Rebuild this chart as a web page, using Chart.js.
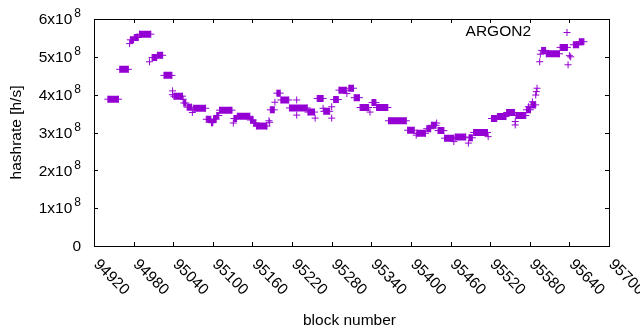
<!DOCTYPE html>
<html>
<head>
<meta charset="utf-8">
<script src="https://cdn.jsdelivr.net/npm/chart.js@4/dist/chart.umd.min.js"></script>
<style>
  html, body { margin: 0; background: #fff; }
</style>
</head>
<body>
<canvas id="hashChart" width="640" height="330"></canvas>
<script>
// runs of blocks that share the same hashrate (drawn as a solid band of + marks)
const runStart = [94941, 94959, 94975, 94981, 94989, 95008, 95016, 95026, 95041, 95056,
  95061, 95071, 95090, 95098, 95101, 95106, 95110, 95132, 95137, 95157,
  95162, 95166, 95187, 95197, 95203, 95216, 95244, 95258, 95268, 95283,
  95291, 95306, 95314, 95323, 95341, 95348, 95366, 95395, 95409, 95424,
  95431, 95441, 95451, 95467, 95488, 95495, 95522, 95531, 95545, 95559,
  95575, 95582, 95598, 95605, 95626, 95646, 95655];
const runEnd = [94957, 94972, 94980, 94987, 95006, 95015, 95024, 95038, 95054, 95059,
  95068, 95089, 95097, 95100, 95105, 95109, 95129, 95136, 95156, 95161,
  95165, 95182, 95193, 95202, 95215, 95243, 95254, 95267, 95277, 95290,
  95302, 95313, 95322, 95336, 95347, 95365, 95393, 95405, 95422, 95430,
  95438, 95450, 95465, 95483, 95493, 95516, 95530, 95544, 95557, 95574,
  95581, 95589, 95604, 95625, 95637, 95654, 95662];
const runValue = [3.88e8, 4.67e8, 5.45e8, 5.51e8, 5.60e8, 4.98e8, 5.04e8, 4.51e8, 3.96e8, 3.78e8,
  3.67e8, 3.64e8, 3.35e8, 3.26e8, 3.35e8, 3.45e8, 3.59e8, 3.37e8, 3.43e8, 3.33e8,
  3.25e8, 3.17e8, 3.60e8, 4.04e8, 3.86e8, 3.65e8, 3.54e8, 3.90e8, 3.56e8, 3.87e8,
  4.12e8, 4.17e8, 3.92e8, 3.66e8, 3.79e8, 3.66e8, 3.31e8, 3.06e8, 2.98e8, 3.10e8,
  3.19e8, 3.05e8, 2.85e8, 2.88e8, 2.86e8, 3.00e8, 3.37e8, 3.42e8, 3.53e8, 3.45e8,
  3.60e8, 3.73e8, 5.17e8, 5.08e8, 5.25e8, 5.32e8, 5.40e8];

// isolated blocks
const singleBlock = [94974, 95004, 95039, 95039, 95055, 95069, 95131, 95185, 95186, 95194,
  95227, 95227, 95255, 95267, 95280, 95280, 95303, 95338, 95408, 95439,
  95465, 95487, 95517, 95558, 95558, 95578, 95584, 95589, 95590, 95591,
  95595, 95596, 95638, 95640, 95642];
const singleValue = [5.35e8, 4.87e8, 4.10e8, 4.00e8, 3.88e8, 3.53e8, 3.25e8, 3.31e8, 3.27e8, 3.80e8,
  3.86e8, 3.46e8, 3.38e8, 3.64e8, 3.68e8, 3.38e8, 4.03e8, 3.54e8, 2.93e8, 3.25e8,
  2.76e8, 2.72e8, 2.89e8, 3.29e8, 3.20e8, 3.68e8, 3.81e8, 3.99e8, 4.08e8, 4.17e8,
  4.87e8, 5.07e8, 4.79e8, 5.03e8, 5.00e8];

const xTicks = [94920, 94980, 95040, 95100, 95160, 95220, 95280, 95340, 95400, 95460, 95520, 95580, 95640, 95700];
const yTicks = [0, 1e8, 2e8, 3e8, 4e8, 5e8, 6e8];
const yTickText = ['0', '1x10', '2x10', '3x10', '4x10', '5x10', '6x10'];
const yTickSup = ['', '8', '8', '8', '8', '8', '8'];

const purple = '#9400d3';
const font = '"Liberation Sans", Arial, sans-serif';

const runPoints = [];
runStart.forEach((s, i) => {
  runPoints.push({ x: s, y: runValue[i] }, { x: runEnd[i], y: runValue[i] }, { x: runEnd[i], y: null });
});
const singlePoints = singleBlock.map((b, i) => ({ x: b, y: singleValue[i] }));

// gnuplot style frame, inward ticks, labels and key
const gnuFrame = {
  id: 'gnuFrame',
  beforeDatasetsDraw(chart) {
    const { ctx, chartArea: a, scales: { x, y } } = chart;
    const tl = 4;
    ctx.save();
    ctx.strokeStyle = '#000';
    ctx.lineWidth = 1;
    ctx.strokeRect(a.left + 0.5, a.top + 0.5, a.right - a.left, a.bottom - a.top);
    ctx.beginPath();
    xTicks.forEach(v => {
      const px = Math.round(x.getPixelForValue(v)) + 0.5;
      ctx.moveTo(px, a.bottom); ctx.lineTo(px, a.bottom - tl);
      ctx.moveTo(px, a.top); ctx.lineTo(px, a.top + tl);
    });
    yTicks.forEach(v => {
      const py = Math.round(y.getPixelForValue(v)) + 0.5;
      ctx.moveTo(a.left, py); ctx.lineTo(a.left + tl, py);
      ctx.moveTo(a.right, py); ctx.lineTo(a.right - tl, py);
    });
    ctx.stroke();

    ctx.fillStyle = '#000';
    // y tick labels with superscript exponent
    yTicks.forEach((v, i) => {
      const py = y.getPixelForValue(v);
      const right = a.left - 13;
      ctx.font = '12px ' + font;
      const supW = yTickSup[i] ? ctx.measureText(yTickSup[i]).width : 0;
      ctx.textAlign = 'right';
      ctx.textBaseline = 'middle';
      if (yTickSup[i]) ctx.fillText(yTickSup[i], right, py - 5);
      ctx.font = '15.5px ' + font;
      ctx.fillText(yTickText[i], right - supW - (supW ? 2 : 0), py + 1);
    });
    // rotated x tick labels
    ctx.font = '15.5px ' + font;
    ctx.textAlign = 'left';
    ctx.textBaseline = 'alphabetic';
    xTicks.forEach(v => {
      const px = x.getPixelForValue(v);
      ctx.save();
      ctx.translate(px - 1, a.bottom + 19);
      ctx.rotate(Math.PI / 4);
      ctx.fillText(String(v), 0, 0);
      ctx.restore();
    });
    // axis titles
    ctx.textAlign = 'center';
    ctx.textBaseline = 'middle';
    ctx.fillText('block number', (a.left + a.right) / 2 - 2, 321);
    ctx.save();
    ctx.translate(17, (a.top + a.bottom) / 2);
    ctx.rotate(-Math.PI / 2);
    ctx.fillText('hashrate [h/s]', 0, 0);
    ctx.restore();
    // key
    ctx.textAlign = 'right';
    ctx.fillText('ARGON2', a.right - 78, a.top + 13);
    ctx.strokeStyle = purple;
    ctx.beginPath();
    const kx = a.right - 42, ky = a.top + 13.5;
    ctx.moveTo(kx - 3.5, ky); ctx.lineTo(kx + 3.5, ky);
    ctx.moveTo(kx, ky - 3.5); ctx.lineTo(kx, ky + 3.5);
    ctx.stroke();
    ctx.restore();
  }
};

new Chart(document.getElementById('hashChart'), {
  type: 'scatter',
  data: {
    datasets: [{
      type: 'line',
      label: 'ARGON2',
      data: runPoints,
      borderColor: purple,
      borderWidth: 7,
      borderCapStyle: 'butt',
      spanGaps: false,
      pointStyle: 'cross',
      pointRadius: 3.5,
      pointBorderWidth: 1,
      pointBorderColor: purple,
      pointBackgroundColor: purple
    }, {
      label: 'ARGON2 single',
      data: singlePoints,
      pointStyle: 'cross',
      pointRadius: 3.5,
      borderWidth: 1,
      borderColor: purple,
      backgroundColor: purple
    }]
  },
  options: {
    responsive: false,
    animation: false,
    layout: { padding: { left: 94, right: 31, top: 19, bottom: 84 } },
    scales: {
      x: { type: 'linear', min: 94920, max: 95700, display: false },
      y: { type: 'linear', min: 0, max: 6e8, display: false }
    },
    plugins: { legend: { display: false }, tooltip: { enabled: false } }
  },
  plugins: [gnuFrame]
});
</script>
</body>
</html>
